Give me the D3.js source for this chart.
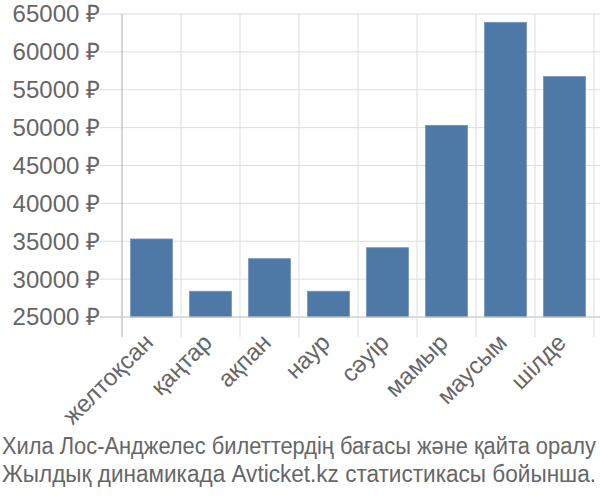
<!DOCTYPE html>
<html><head><meta charset="utf-8">
<script src="https://cdn.jsdelivr.net/npm/d3@7"></script>
<style>body{margin:0;background:#fff}svg{display:block}</style>
</head><body>
<svg id="c" width="600" height="500"></svg>
<script>
const categories = ["желтоқсан","қаңтар","ақпан","наур","сәуір","мамыр","маусым","шілде"];
const values = [35300, 28400, 32700, 28400, 34150, 50300, 63900, 56750];
const yTicks = [25000,30000,35000,40000,45000,50000,55000,60000,65000];
const titleLines = ["Хила Лос-Анджелес билеттердің бағасы және қайта оралу","Жылдық динамикада Avticket.kz статистикасы бойынша."];

(function () {
const svg = d3.select("#c");
const pL = 122, pR = 594, pT = 14, pB = 317;
const x = d3.scaleBand().domain(categories).range([pL, pR]).paddingInner(0.29).paddingOuter(0.145);
const y = d3.scaleLinear().domain([25000, 65000]).range([pB, pT]);
const font = "'Liberation Sans', Arial, sans-serif";

svg.append("g").selectAll("line").data(yTicks).join("line")
  .attr("x1", 100).attr("x2", 600)
  .attr("y1", d => y(d)).attr("y2", d => y(d))
  .attr("stroke", "#ddd").attr("stroke-width", 1);
const step = x.step();
const vlines = d3.range(categories.length + 1).map(i => pL + i * step);
svg.append("g").selectAll("line").data(vlines.slice(1)).join("line")
  .attr("x1", d => d).attr("x2", d => d)
  .attr("y1", pT).attr("y2", 337)
  .attr("stroke", "#ddd").attr("stroke-width", 1);
svg.append("line").attr("x1", pL).attr("x2", pL).attr("y1", pT).attr("y2", 337)
  .attr("stroke", "#aaa").attr("stroke-width", 1);

svg.append("g").selectAll("rect").data(values).join("rect")
  .attr("x", (d, i) => x(categories[i]))
  .attr("width", x.bandwidth())
  .attr("y", d => y(d))
  .attr("height", d => y(25000) - y(d))
  .attr("fill", "#4e79a7")
  .attr("stroke", "#7393bb").attr("stroke-width", 0.8);

svg.append("line").attr("x1", 100).attr("x2", 600).attr("y1", pB).attr("y2", pB)
  .attr("stroke", "#ccc").attr("stroke-width", 1);

svg.append("g").selectAll("text").data(yTicks).join("text")
  .attr("x", 100).attr("y", d => y(d)).attr("dy", "0.35em")
  .attr("text-anchor", "end").attr("fill", "#666")
  .style("font-family", font).style("font-size", "24px")
  .text(d => d + " ₽");

svg.append("g").selectAll("text").data(categories).join("text")
  .attr("transform", d => `translate(${x(d) + x.bandwidth() / 2 + 3},${344}) rotate(-45)`)
  .attr("text-anchor", "end").attr("fill", "#666")
  .style("font-family", font).style("font-size", "24px")
  .text(d => d);

svg.append("g").selectAll("text").data(titleLines).join("text")
  .attr("transform", (d, i) => `translate(2,${454 + i * 28}) scale(1,1.1)`)
  .attr("fill", "#666")
  .attr("textLength", 594)
  .attr("lengthAdjust", "spacingAndGlyphs")
  .style("font-family", font).style("font-size", "21px")
  .text(d => d);
})();
</script>
</body></html>
